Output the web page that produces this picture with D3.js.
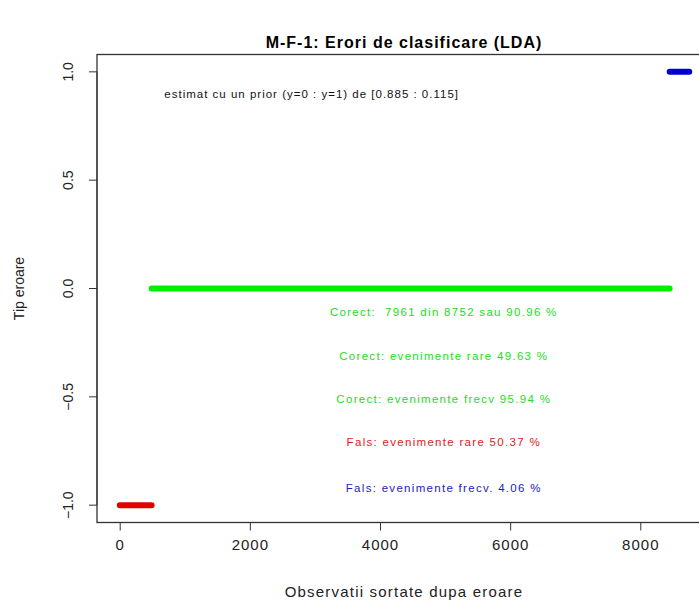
<!DOCTYPE html>
<html>
<head>
<meta charset="utf-8">
<script src="https://cdn.jsdelivr.net/npm/d3@7"></script>
<style>
  body { margin: 0; background: #fff; }
  svg { font-family: "Liberation Sans", Arial, sans-serif; }
  text { white-space: pre; }
</style>
</head>
<body>
<svg id="chart" width="699" height="603"></svg>
<script>
// sorted observations: index ranges per error type
const segStart = [1, 491, 8452];
const segEnd = [490, 8451, 8752];
const segType = [-1, 0, 1];
const segColor = ["#e00000", "#00ee00", "#0000cc"];

const xTicks = [0, 2000, 4000, 6000, 8000];
const yTicks = [-1.0, -0.5, 0.0, 0.5, 1.0];

const notes = [
  { text: "Corect:  7961 din 8752 sau 90.96 %", color: "#22dd22", y: -0.11 },
  { text: "Corect: evenimente rare 49.63 %", color: "#22dd22", y: -0.31 },
  { text: "Corect: evenimente frecv 95.94 %", color: "#22dd22", y: -0.51 },
  { text: "Fals: evenimente rare 50.37 %", color: "#dd2222", y: -0.71 },
  { text: "Fals: evenimente frecv. 4.06 %", color: "#2222bb", y: -0.92 }
];

const svg = d3.select("#chart");
const x = d3.scaleLinear().domain([-349, 9102]).range([97, 712]);
const y = d3.scaleLinear().domain([-1.08, 1.08]).range([522.5, 54.5]);

svg.append("text").attr("x", 404).attr("y", 48).attr("text-anchor", "middle")
  .attr("font-size", 16).attr("letter-spacing", 1).attr("font-weight", "bold")
  .text("M-F-1: Erori de clasificare (LDA)");

// box
svg.append("rect").attr("x", 97).attr("y", 54.5).attr("width", 615).attr("height", 468)
  .attr("fill", "none").attr("stroke", "#333").attr("stroke-width", 1.3);

const xAxis = svg.append("g").attr("transform", "translate(0,522.5)")
  .call(d3.axisBottom(x).tickValues(xTicks).tickSize(8).tickPadding(9).tickFormat(d3.format("d")));
xAxis.select(".domain").attr("d", `M${x(0)},0H${x(8000)}`).attr("stroke", "#333");
xAxis.selectAll("line").attr("stroke", "#333");
xAxis.selectAll("text").attr("font-size", 15).attr("letter-spacing", 1).attr("fill", "#222")
  .attr("font-family", "Liberation Sans, Arial");

const yAxis = svg.append("g").attr("transform", "translate(97,0)")
  .call(d3.axisLeft(y).tickValues(yTicks).tickSize(8).tickFormat(d3.format(".1f")));
yAxis.select(".domain").attr("d", `M0,${y(-1)}V${y(1)}`).attr("stroke", "#333");
yAxis.selectAll("line").attr("stroke", "#333");
yAxis.selectAll("text").attr("font-size", 14).attr("fill", "#222").attr("font-family", "Liberation Sans, Arial")
  .attr("text-anchor", "middle").attr("transform", d => `translate(-29,${y(d)}) rotate(-90)`)
  .attr("x", 0).attr("y", 0).attr("dy", "0.35em");
yAxis.selectAll(".tick").attr("transform", null);
yAxis.selectAll(".tick line").attr("transform", d => `translate(0,${y(d)})`);

svg.selectAll("line.seg").data(segStart).join("line").attr("class", "seg")
  .attr("x1", (d, i) => x(d)).attr("x2", (d, i) => x(segEnd[i]))
  .attr("y1", (d, i) => y(segType[i])).attr("y2", (d, i) => y(segType[i]))
  .attr("stroke", (d, i) => segColor[i]).attr("stroke-width", 6).attr("stroke-linecap", "round");

svg.append("text").attr("x", x(2950)).attr("y", y(0.9)).attr("text-anchor", "middle")
  .attr("dy", "0.35em").attr("font-size", 11.5).attr("letter-spacing", 1).attr("fill", "#111")
  .text("estimat cu un prior (y=0 : y=1) de [0.885 : 0.115]");

svg.selectAll("text.note").data(notes).join("text").attr("class", "note")
  .attr("x", x(4980)).attr("y", d => y(d.y)).attr("dy", "0.35em").attr("text-anchor", "middle")
  .attr("font-size", 11.5).attr("letter-spacing", 1.3).attr("fill", d => d.color).text(d => d.text);

svg.append("text").attr("x", 404).attr("y", 597).attr("text-anchor", "middle")
  .attr("font-size", 15).attr("letter-spacing", 1.2).attr("fill", "#222").text("Observatii sortate dupa eroare");
svg.append("text").attr("transform", `translate(24,${y(0)}) rotate(-90)`).attr("text-anchor", "middle")
  .attr("font-size", 14).attr("fill", "#222").text("Tip eroare");
</script>
</body>
</html>
